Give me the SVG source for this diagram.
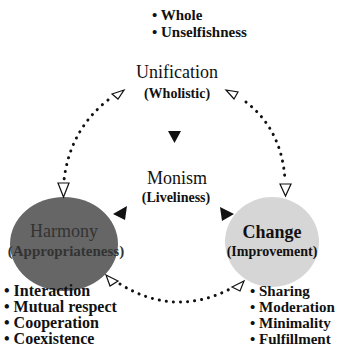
<svg xmlns="http://www.w3.org/2000/svg" width="337" height="349" viewBox="0 0 337 349">
<style>
text{font-family:"Liberation Serif","DejaVu Serif","Times New Roman",serif;fill:#111;}
.t{font-size:18px;text-anchor:middle;}
.s{font-size:14px;text-anchor:middle;font-weight:bold;}
.l{font-size:15px;font-weight:bold;}
.dot{fill:none;stroke:#111;stroke-width:3;stroke-dasharray:0.1 7;stroke-linecap:round;}
.open{fill:#fff;stroke:#111;stroke-width:1.2;}
.fill{fill:#111;}
</style>
<rect width="337" height="349" fill="#fff"/>
<g id="top-list">
<text class="l" x="152" y="20">• Whole</text>
<text class="l" x="152" y="37">• Unselfishness</text>
</g>
<g id="unification">
<text class="t" x="177" y="78">Unification</text>
<text class="s" x="177" y="98">(Wholistic)</text>
</g>
<g id="monism">
<path class="fill" d="M168,131 L181,131 L174.5,143 Z"/>
<text class="t" x="177" y="184">Monism</text>
<text class="s" x="176" y="202">(Liveliness)</text>
</g>
<g id="harmony">
<ellipse cx="64" cy="244" rx="54" ry="47" fill="#666"/>
<text class="t" x="64" y="237" style="fill:#333">Harmony</text>
<text class="s" x="66" y="256" style="fill:#333;font-size:15px">(Appropriateness)</text>
</g>
<g id="change">
<ellipse cx="272" cy="242" rx="47" ry="45" fill="#d6d6d6"/>
<text class="t" x="272" y="238" style="font-weight:bold">Change</text>
<text class="s" x="272" y="256">(Improvement)</text>
</g>
<g id="connectors">
<path class="dot" d="M108,100 Q70,130 64,180"/>
<path class="dot" d="M246,102 Q282,130 285,180"/>
<path class="dot" d="M120,284 Q175,318 232,288"/>
<path class="open" d="M112,94 L124,90 L118,99 Z"/>
<path class="open" d="M226,90 L238,92 L234,99 Z"/>
<path class="open" d="M58,183 L69,183 L63.5,197 Z"/>
<path class="open" d="M280,184 L291,184 L285.5,196 Z"/>
<path class="open" d="M106,275 L118,281 L110,286 Z"/>
<path class="open" d="M232,287 L244,281 L240,291 Z"/>
<path class="fill" d="M113,214 L127,206 L125,220 Z"/>
<path class="fill" d="M220,207 L234,214 L222,221 Z"/>
</g>
<g id="left-list">
<text class="l" x="4" y="296" style="font-size:16px">• Interaction</text>
<text class="l" x="4" y="312" style="font-size:16px">• Mutual respect</text>
<text class="l" x="4" y="328" style="font-size:16px">• Cooperation</text>
<text class="l" x="4" y="344" style="font-size:16px">• Coexistence</text>
</g>
<g id="right-list">
<text class="l" x="250" y="296">• Sharing</text>
<text class="l" x="250" y="312">• Moderation</text>
<text class="l" x="250" y="328">• Minimality</text>
<text class="l" x="250" y="344">• Fulfillment</text>
</g>
</svg>
